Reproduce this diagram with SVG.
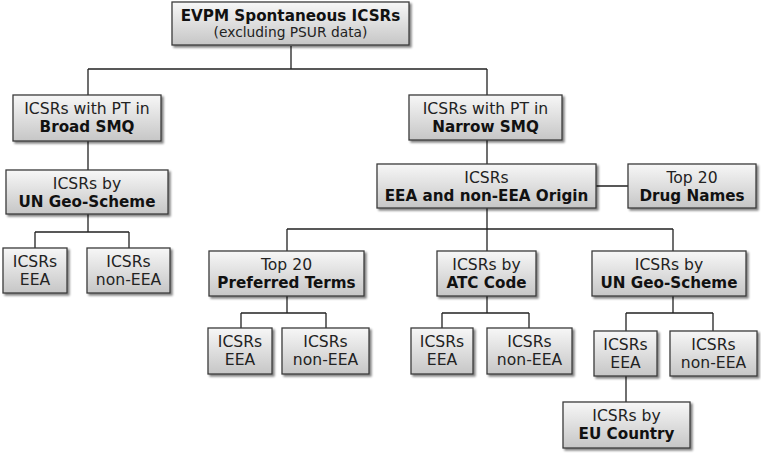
<svg xmlns="http://www.w3.org/2000/svg" width="761" height="453" viewBox="0 0 761 453">
<defs>
<linearGradient id="g" x1="0" y1="0" x2="0" y2="1">
<stop offset="0" stop-color="#f7f7f7"/>
<stop offset="1" stop-color="#c6c6c6"/>
</linearGradient>
<filter id="sh" x="-10%" y="-10%" width="130%" height="140%">
<feGaussianBlur in="SourceAlpha" stdDeviation="1.2"/>
<feOffset dx="2" dy="2" result="b"/>
<feComponentTransfer><feFuncA type="linear" slope="0.5"/></feComponentTransfer>
<feMerge><feMergeNode/><feMergeNode in="SourceGraphic"/></feMerge>
</filter>
</defs>
<style>
rect{fill:url(#g);stroke:#3c3c3c;stroke-width:1.3;filter:url(#sh)}
text{font-family:"DejaVu Sans",Verdana,sans-serif;font-size:15.6px;fill:#222;text-anchor:middle}
.b{font-weight:bold;fill:#111;font-size:15.2px}
.s{font-size:13.8px}
#connectors path{fill:none;stroke:#222;stroke-width:1.3}
</style>
<g id="connectors">
<path d="M291 46V69M88 69H487M88 69V95M487 69V95"/>
<path d="M88 141V170M88 214V232M35 232H129M35 232V248M129 232V248"/>
<path d="M487 140V164M596 186H628"/>
<path d="M487 208V229M287 229H673M287 229V251M487 229V251M673 229V251"/>
<path d="M287 296V313M241 313H326M241 313V328M326 313V328"/>
<path d="M487 296V313M442 313H529M442 313V328M529 313V328"/>
<path d="M673 296V313M626 313H713M626 313V331M713 313V331"/>
<path d="M626 376V402"/>
</g>
<g id="root"><rect x="172" y="2" width="237" height="43"/><text x="290.5" y="21" class="b">EVPM Spontaneous ICSRs</text><text x="290.5" y="37" class="s">(excluding PSUR data)</text></g>
<g id="broad"><rect x="13" y="95" width="148" height="46"/><text x="87" y="114">ICSRs with PT in</text><text x="87" y="132" class="b">Broad SMQ</text></g>
<g id="geo-left"><rect x="6" y="170" width="162" height="44"/><text x="87" y="189">ICSRs by</text><text x="87" y="207" class="b">UN Geo-Scheme</text></g>
<g id="eea-left"><rect x="3" y="248" width="64" height="45"/><text x="35" y="267">ICSRs</text><text x="35" y="285">EEA</text></g>
<g id="noneea-left"><rect x="87" y="248" width="83" height="45"/><text x="128.5" y="267">ICSRs</text><text x="128.5" y="285">non-EEA</text></g>
<g id="narrow"><rect x="409" y="95" width="153" height="45"/><text x="485.5" y="114">ICSRs with PT in</text><text x="485.5" y="132" class="b">Narrow SMQ</text></g>
<g id="origin"><rect x="377" y="164" width="219" height="44"/><text x="486.5" y="183">ICSRs</text><text x="486.5" y="201" class="b">EEA and non-EEA Origin</text></g>
<g id="drugs"><rect x="628" y="164" width="128" height="44"/><text x="692" y="183">Top 20</text><text x="692" y="201" class="b">Drug Names</text></g>
<g id="pt"><rect x="209" y="251" width="155" height="45"/><text x="286.5" y="270">Top 20</text><text x="286.5" y="288" class="b">Preferred Terms</text></g>
<g id="atc"><rect x="437" y="251" width="99" height="45"/><text x="486.5" y="270">ICSRs by</text><text x="486.5" y="288" class="b">ATC Code</text></g>
<g id="geo-right"><rect x="592" y="251" width="154" height="45"/><text x="669" y="270">ICSRs by</text><text x="669" y="288" class="b">UN Geo-Scheme</text></g>
<g id="pt-eea"><rect x="208" y="328" width="64" height="46"/><text x="240" y="347">ICSRs</text><text x="240" y="365">EEA</text></g>
<g id="pt-noneea"><rect x="282" y="328" width="87" height="46"/><text x="325.5" y="347">ICSRs</text><text x="325.5" y="365">non-EEA</text></g>
<g id="atc-eea"><rect x="411" y="328" width="62" height="46"/><text x="442" y="347">ICSRs</text><text x="442" y="365">EEA</text></g>
<g id="atc-noneea"><rect x="487" y="328" width="85" height="46"/><text x="529.5" y="347">ICSRs</text><text x="529.5" y="365">non-EEA</text></g>
<g id="geo-eea"><rect x="594" y="331" width="63" height="45"/><text x="625.5" y="350">ICSRs</text><text x="625.5" y="368">EEA</text></g>
<g id="geo-noneea"><rect x="670" y="331" width="87" height="45"/><text x="713.5" y="350">ICSRs</text><text x="713.5" y="368">non-EEA</text></g>
<g id="eu"><rect x="563" y="402" width="127" height="46"/><text x="626.5" y="421">ICSRs by</text><text x="626.5" y="439" class="b">EU Country</text></g>
</svg>
